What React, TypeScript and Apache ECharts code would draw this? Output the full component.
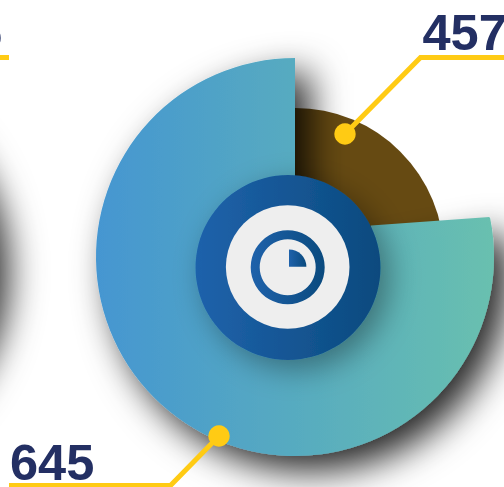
import React, { useEffect, useRef } from "react";
import * as echarts from "echarts";

const sliceNames = ["A", "B"];
const sliceValues = [645, 457];
const spacerValues = [180, 1371];
const clippedLabel = "5";

const INK = "#232f63";
const GOLD = "#ffcb14";

export default function App() {
  const ref = useRef<HTMLDivElement>(null);
  useEffect(() => {
    document.body.style.margin = "0";
    const chart = echarts.init(ref.current!, undefined, { renderer: "svg" });
    const tealFill = () =>
      new echarts.graphic.LinearGradient(96, 0, 494, 0, [
        { offset: 0, color: "#4596d1" },
        { offset: 1, color: "#69c0af" },
      ], true);
    const navyFill = (x0: number, x1: number) =>
      new echarts.graphic.LinearGradient(x0, 0, x1, 0, [
        { offset: 0, color: "#1f62ab" },
        { offset: 1, color: "#0a4a7e" },
      ], true);
    const hidden = (name: string, value: number) => ({
      name,
      value,
      itemStyle: { color: "transparent", shadowBlur: 0, shadowColor: "transparent" },
      emphasis: { disabled: true },
    });
    const base = {
      type: "pie",
      center: [295, 257],
      startAngle: 90,
      silent: true,
      label: { show: false },
      labelLine: { show: false },
      emphasis: { disabled: true },
    };
    const text = (value: string, x: number, y: number, align: string) => ({
      type: "text",
      x,
      y,
      style: {
        text: value,
        fill: INK,
        font: "bold 50.5px 'Liberation Sans', Arial, sans-serif",
        lineHeight: 44,
        textAlign: align,
        textVerticalAlign: "middle",
      },
    });
    const leader = (points: number[][]) => ({
      type: "polyline",
      shape: { points },
      style: { stroke: GOLD, lineWidth: 5, fill: "none" },
    });
    const elements = [
      {
        type: "circle",
        shape: { cx: -206, cy: 257, r: 199 },
        style: {
          fill: "#ffffff",
          shadowBlur: 36,
          shadowOffsetX: 15,
          shadowOffsetY: 15,
          shadowColor: "rgba(0,0,0,0.85)",
        },
      },
      {
        type: "polygon",
        shape: { points: [[489.5, 217], [371, 225.5], [372, 250], [486, 228]] },
        style: { fill: tealFill() },
      },
      {
        type: "circle",
        shape: { cx: 288, cy: 267.5, r: 92.5 },
        style: {
          fill: navyFill(196, 380),
          shadowBlur: 30,
          shadowOffsetX: 9,
          shadowOffsetY: 9,
          shadowColor: "rgba(0,0,0,0.36)",
        },
      },
      { type: "circle", shape: { cx: 287.7, cy: 267, r: 61.8 }, style: { fill: "#eeeeee" } },
      { type: "ring", shape: { cx: 287.7, cy: 267.3, r: 37, r0: 28 }, style: { fill: navyFill(250, 325) } },
      {
        type: "sector",
        shape: { cx: 289, cy: 266.8, r: 17.4, r0: 0, startAngle: -Math.PI / 2, endAngle: 0 },
        style: { fill: navyFill(289, 306) },
      },
      leader([[345, 134], [420.5, 57.5], [504, 57.5]]),
      leader([[219, 436], [170.5, 485.5], [9, 485.5]]),
      leader([[0, 57.5], [9, 57.5]]),
      { type: "circle", shape: { cx: 345, cy: 134, r: 10.7 }, style: { fill: GOLD } },
      { type: "circle", shape: { cx: 219, cy: 436, r: 10.7 }, style: { fill: GOLD } },
      text(String(sliceValues[1]), 422.5, 32, "left"),
      text(String(sliceValues[0]), 10, 462, "left"),
      text(clippedLabel, 2, 32, "right"),
    ].map((el) => ({ ...el, z: 10 }));
    chart.setOption({
      animation: false,
      backgroundColor: "#ffffff",
      series: [
        {
          ...base,
          name: sliceNames[1],
          z: 1,
          radius: [0, 149],
          clockwise: true,
          data: [
            { name: sliceNames[1], value: sliceValues[1], itemStyle: { color: "#664a12" } },
            hidden("rest-b", spacerValues[1]),
          ],
        },
        {
          ...base,
          name: sliceNames[0],
          z: 2,
          radius: [0, 199],
          clockwise: false,
          data: [
            {
              name: sliceNames[0],
              value: sliceValues[0],
              itemStyle: {
                color: tealFill(),
                shadowBlur: 36,
                shadowOffsetX: 15,
                shadowOffsetY: 15,
                shadowColor: "rgba(0,0,0,0.85)",
              },
            },
            hidden("rest-a", spacerValues[0]),
          ],
        },
      ],
      graphic: { elements },
    });
    return () => chart.dispose();
  }, []);
  return <div ref={ref} style={{ width: 504, height: 487, overflow: "hidden" }} />;
}
